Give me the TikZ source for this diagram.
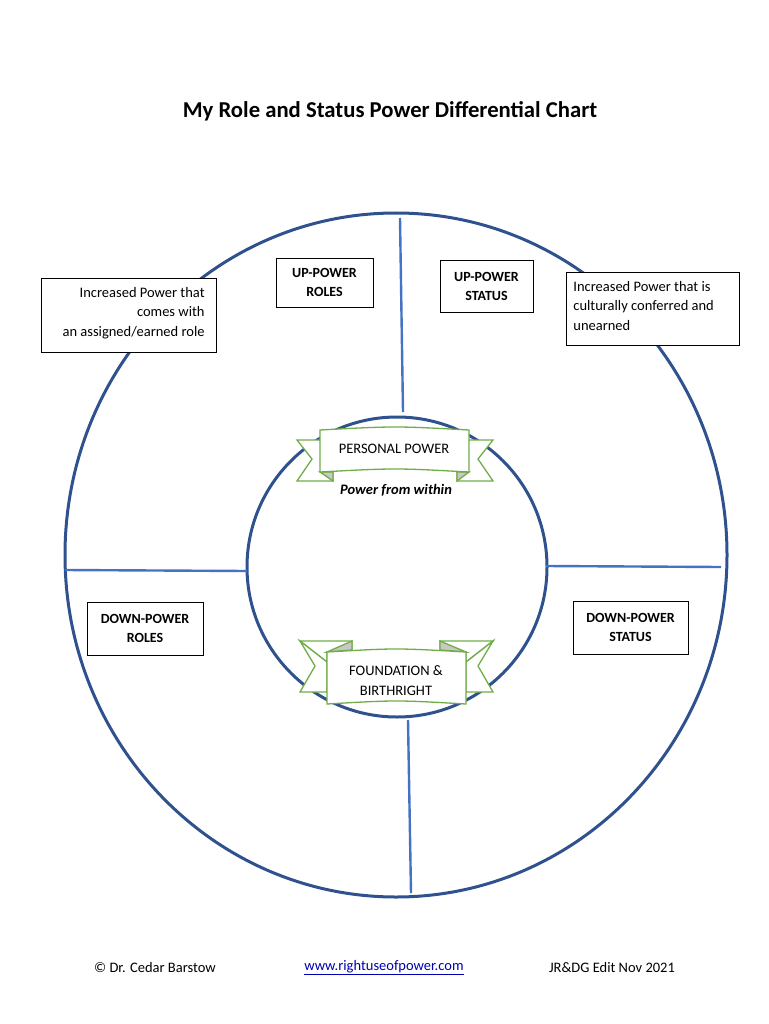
\documentclass[tikz,border=0pt]{standalone}
\usepackage{fontspec}
\setmainfont{Carlito}
\usetikzlibrary{positioning}
\definecolor{ChartBlue}{RGB}{47,82,143}
\definecolor{SpokeBlue}{RGB}{68,114,196}
\definecolor{RibbonGreen}{RGB}{112,173,71}
\definecolor{FoldGray}{RGB}{200,200,200}

\begin{document}
\begin{tikzpicture}[x=1pt,y=-1pt,
  ring/.style={ChartBlue,line width=3pt},
  spoke/.style={SpokeBlue,line width=2.4pt},
  lbl/.style={draw,line width=0.8pt,font=\fontsize{14}{19}\selectfont\bfseries,align=center,inner sep=0pt},
  note/.style={draw,line width=0.8pt,font=\fontsize{14.5}{19.5}\selectfont,inner sep=0pt},
  rib/.style={draw=RibbonGreen,fill=white,line width=1.3pt,line join=miter},
  fold/.style={draw=RibbonGreen,fill=FoldGray,line width=1.3pt}]
\useasboundingbox (0,0) rectangle (768,1024);
% title
\node[font=\fontsize{22.7}{27}\selectfont\bfseries] (title) at (390,111) {My Role and Status Power Differential Chart};
% circles
\draw[ring] (396,555) ellipse [x radius=331,y radius=342];
\draw[ring] (397,567) circle [radius=150];
\coordinate (tA) at (400,218); \coordinate (tB) at (403,412);
\coordinate (lA) at (65,570);  \coordinate (lB) at (247,571);
\coordinate (rA) at (546,566); \coordinate (rB) at (721,567);
\coordinate (bA) at (408,720); \coordinate (bB) at (411,893);
\draw[spoke] (tA) -- (tB);
\draw[spoke] (lA) -- (lB);
\draw[spoke] (rA) -- (rB);
\draw[spoke] (bA) -- (bB);
% quadrant labels
\node[lbl,fill=white,minimum width=97,minimum height=49] (upRoles) at (324.5,282.5) {UP-POWER\\ROLES};
\node[lbl,fill=white,minimum width=93,minimum height=52] (upStatus) at (486.5,286) {UP-POWER\\STATUS};
\node[lbl,minimum width=116,minimum height=53] (downRoles) at (145,628.5) {DOWN-POWER\\ROLES};
\node[lbl,minimum width=115,minimum height=53] (downStatus) at (630.5,627.5) {DOWN-POWER\\STATUS};
\draw[fill=white,line width=0.8pt] (41,278) rectangle (216,352);
\node[note,draw=none,align=right,anchor=north east] (roleNote) at (205,287)
  {Increased Power that\\comes with\\an assigned/earned role};
\draw[fill=white,line width=0.8pt] (566,272) rectangle (739,345);
\node[note,draw=none,align=left,anchor=north west] (statusNote) at (573,281)
  {Increased Power that is\\culturally conferred and\\unearned};
% top ribbon
\draw[rib] (320,440) -- (297,440) -- (312,459) -- (297,481) -- (333,481) -- (333,472) -- cycle;
\draw[rib] (469,440) -- (493,440) -- (478,459) -- (493,481) -- (457,481) -- (457,472) -- cycle;
\draw[fold] (320,472) -- (333,472) -- (333,481) -- cycle;
\draw[fold] (469,472) -- (457,472) -- (457,481) -- cycle;
\draw[rib] (320,430) .. controls (395,426) .. (469,430) -- (469,472) .. controls (395,468) .. (320,472) -- cycle;
\node[font=\fontsize{14.5}{18}\selectfont] (personal) at (394,449) {PERSONAL POWER};
\node[font=\fontsize{14.5}{18}\selectfont\bfseries\itshape] (within) at (396,490) {Power from within};
% bottom ribbon
\draw[rib] (327,662) -- (300,641) -- (352,641) -- (352,652) -- (327,652) -- cycle;
\draw[rib] (327,662) -- (300,641) -- (315,666) -- (300,692) -- (327,692) -- cycle;
\draw[rib] (466,662) -- (493,641) -- (440,641) -- (440,652) -- (466,652) -- cycle;
\draw[rib] (466,662) -- (493,641) -- (478,666) -- (493,692) -- (466,692) -- cycle;
\draw[fold] (327,652) -- (352,650) -- (352,641) -- cycle;
\draw[fold] (466,652) -- (440,650) -- (440,641) -- cycle;
\draw[rib] (327,652) .. controls (396,648) .. (466,652) -- (466,704) .. controls (396,700) .. (327,704) -- cycle;
\node[font=\fontsize{14.5}{20}\selectfont,align=center] (foundation) at (396,681) {FOUNDATION \&\\BIRTHRIGHT};
% footer
\node[font=\fontsize{14.5}{18}\selectfont] (author) at (155,968) {© Dr. Cedar Barstow};
\node[font=\fontsize{14.5}{18}\selectfont,text=blue!70!black] (site) at (384,968) {\underline{www.rightuseofpower.com}};
\node[font=\fontsize{14.5}{18}\selectfont] (edit) at (612,968) {JR\&DG Edit Nov 2021};
\end{tikzpicture}
\end{document}
